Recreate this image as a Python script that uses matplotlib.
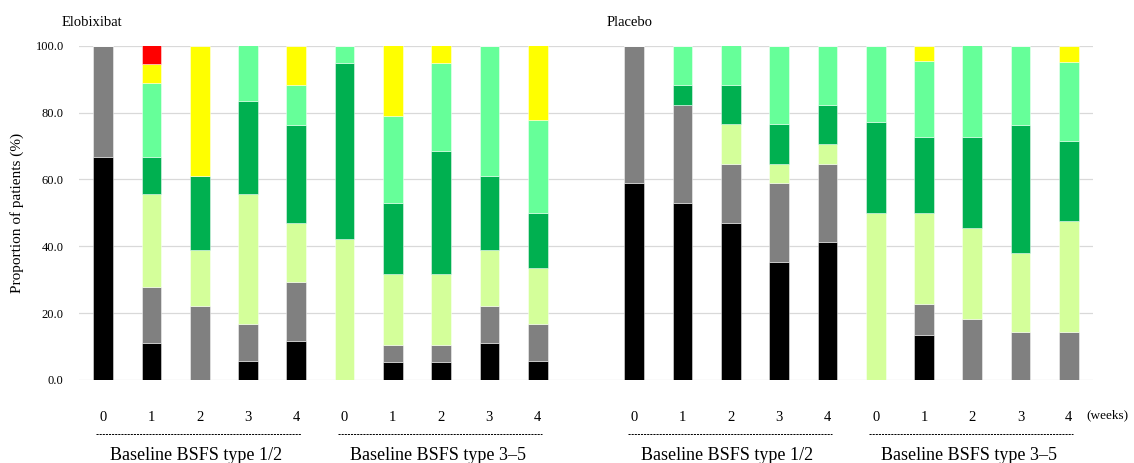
import matplotlib
matplotlib.use("Agg")
import matplotlib.pyplot as plt
import matplotlib.transforms as mtransforms
import numpy as np

plt.rcParams['font.family'] = ['Liberation Serif', 'DejaVu Serif']

# ---- data (percent of patients, BSFS type per bar) ----
weeks = ["0", "1", "2", "3", "4"]
group_labels = ["Baseline BSFS type 1/2", "Baseline BSFS type 3\u20135",
                "Baseline BSFS type 1/2", "Baseline BSFS type 3\u20135"]
arm_labels = ["Elobixibat", "Placebo"]

type1 = [66.7, 11.1, 0, 5.6, 11.8, 0, 5.3, 5.3, 11.1, 5.6,
         58.8, 52.9, 47.1, 35.3, 41.2, 0, 13.6, 0, 0, 0]
type2 = [33.3, 16.7, 22.2, 11.1, 17.6, 0, 5.3, 5.3, 11.1, 11.1,
         41.2, 29.4, 17.6, 23.5, 23.5, 0, 9.1, 18.2, 14.3, 14.3]
type3 = [0, 27.8, 16.7, 38.9, 17.6, 42.1, 21.1, 21.1, 16.7, 16.7,
         0, 0, 11.8, 5.9, 5.9, 50.0, 27.3, 27.3, 23.8, 33.3]
type4 = [0, 11.1, 22.2, 27.8, 29.4, 52.6, 21.1, 36.8, 22.2, 16.7,
         0, 5.9, 11.8, 11.8, 11.8, 27.3, 22.7, 27.3, 38.1, 23.8]
type5 = [0, 22.2, 0, 16.7, 11.8, 5.3, 26.3, 26.3, 38.9, 27.8,
         0, 11.8, 11.8, 23.5, 17.6, 22.7, 22.7, 27.3, 23.8, 23.8]
type6 = [0, 5.6, 38.9, 0, 11.8, 0, 21.1, 5.3, 0, 22.2,
         0, 0, 0, 0, 0, 0, 4.5, 0, 0, 4.8]
type7 = [0, 5.6, 0, 0, 0, 0, 0, 0, 0, 0,
         0, 0, 0, 0, 0, 0, 0, 0, 0, 0]

series = [type1, type2, type3, type4, type5, type6, type7]
colors = ["#000000", "#808080", "#D4FF9A", "#00B050", "#66FF99", "#FFFF00", "#FF0000"]

positions = list(range(0, 10)) + list(range(11, 21))

fig = plt.figure(figsize=(11.34, 4.63), dpi=100)
ax = fig.add_axes([79 / 1134, 1 - 380 / 463, (1093 - 79) / 1134, (380 - 45.7) / 463])

bottom = np.zeros(len(positions))
for vals, c in zip(series, colors):
    v = np.array(vals, dtype=float)
    ax.bar(positions, v, width=0.41, bottom=bottom, color=c,
           edgecolor=(1, 1, 1, 0.45), linewidth=0.7, zorder=3)
    bottom += v

ax.set_xlim(-0.5, 20.5)
ax.set_ylim(0, 100)
ax.set_yticks(np.arange(0, 101, 20))
ax.set_yticklabels([f"{t:.1f}" for t in np.arange(0, 101, 20)], fontsize=9)
ax.yaxis.grid(True, color="#D9D9D9", linewidth=0.9, zorder=0)
ax.set_axisbelow(True)
for s in ax.spines.values():
    s.set_visible(False)
ax.tick_params(axis="y", length=0, pad=11)
ax.set_xticks(positions)
ax.set_xticklabels(weeks * 4, fontsize=10.5)
ax.tick_params(axis="x", length=0, pad=22)

ax.set_ylabel("Proportion of patients (%)", fontsize=11, labelpad=8)

trans = mtransforms.blended_transform_factory(ax.transData, fig.transFigure)
# (weeks)
ax.text(20.37, 1 - 415 / 463, "(weeks)", transform=trans, fontsize=9.5,
        ha="left", va="center")

group_starts = [0, 5, 11, 16]
for g, lab in zip(group_starts, group_labels):
    x0, x1 = g - 0.14, g + 4 + 0.09
    ax.plot([x0, x1], [1 - 434 / 463] * 2, transform=trans, color="black",
            linewidth=0.7, linestyle=(0, (2.2, 1.0)), clip_on=False)
    ax.text((x0 + x1) / 2 - 0.05, 1 - 455 / 463, lab, transform=trans,
            fontsize=13, ha="center", va="center")

fig.text(62 / 1134, 1 - 23 / 463, arm_labels[0], fontsize=10.5, ha="left", va="center")
fig.text(607 / 1134, 1 - 23 / 463, arm_labels[1], fontsize=10.5, ha="left", va="center")

fig.savefig("out.png", dpi=100)
